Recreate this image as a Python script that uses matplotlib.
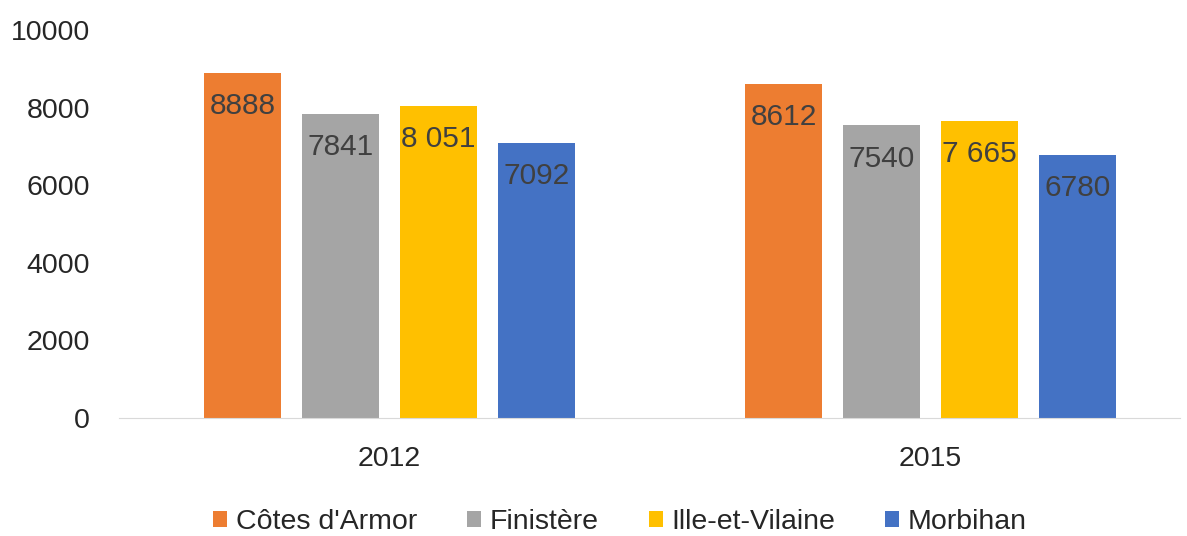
import matplotlib.pyplot as plt
import numpy as np

years = ["2012", "2015"]
departments = ["Côtes d'Armor", "Finistère", "Ille-et-Vilaine", "Morbihan"]
cotes = [8888, 8612]
finistere = [7841, 7540]
ille = [8051, 7665]
morbihan = [7092, 6780]
labels = [["8888", "8612"], ["7841", "7540"], ["8 051", "7 665"], ["7092", "6780"]]
colors = ["#ED7D31", "#A5A5A5", "#FFC000", "#4472C4"]

plt.rcParams['font.family'] = ['Liberation Sans', 'DejaVu Sans']

fig = plt.figure(figsize=(11.87, 5.36), dpi=100)
ax = fig.add_axes([119/1187, 118/536, (1180-119)/1187, 388/536])

x = np.arange(len(years))
width = 0.143
step = 0.181
series = [cotes, finistere, ille, morbihan]
for i, vals in enumerate(series):
    pos = x + (i - 1.5) * step
    ax.bar(pos, vals, width, color=colors[i], label=departments[i])
    for p, v, t in zip(pos, vals, labels[i]):
        ax.annotate(t, (p, v), xytext=(0, -24), textcoords='offset points',
                    ha='center', va='center', fontsize=21.5, color='#404040')

ax.set_xlim(-0.5, 1.461)
ax.set_ylim(0, 10000)
ax.set_yticks(range(0, 10001, 2000))
ax.set_xticks(x)
ax.set_xticklabels(years)
for s in ['top', 'right', 'left']:
    ax.spines[s].set_visible(False)
ax.spines['bottom'].set_color('#D9D9D9')
ax.tick_params(axis='both', length=0, labelsize=20.5, labelcolor='#262626')
ax.tick_params(axis='y', pad=21)
ax.tick_params(axis='x', pad=20)

fig.legend(loc='center', bbox_to_anchor=(620/1187, 1 - 522/536), ncol=4,
           frameon=False, fontsize=20.5, handlelength=0.5, handleheight=0.5,
           handletextpad=0.3, columnspacing=1.75, labelcolor='#262626')

fig.savefig("out.png", dpi=100)
